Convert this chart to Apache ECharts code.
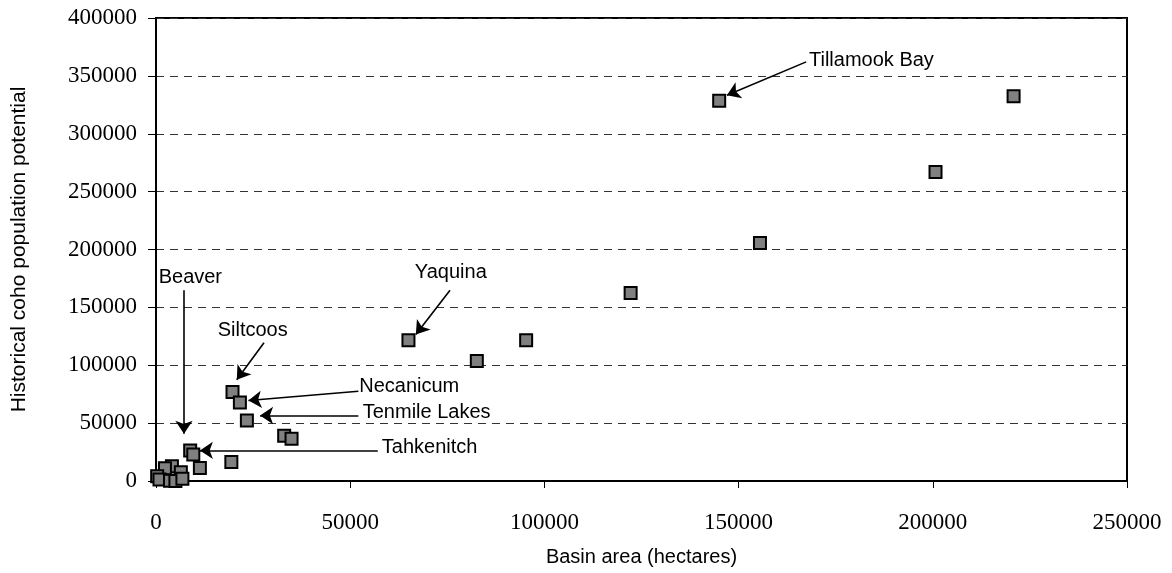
<!DOCTYPE html>
<html>
<head>
<meta charset="utf-8">
<script src="https://cdn.jsdelivr.net/npm/echarts@6/dist/echarts.min.js"></script>
<style>html,body{margin:0;padding:0;background:#fff}#c{width:1172px;height:573px}</style>
</head>
<body>
<div id="c"></div>
<script>
// Basin area (hectares) and historical coho population potential
const basinArea = [145000, 220800, 200700, 155500, 122200, 65000, 82600, 95300, 19700, 21600, 23400, 33000, 34900, 8800, 9600, 19400, 11300, 4100, 2300, 6400, 300, 900, 3600, 5000, 6800];
const cohoPotential = [328500, 332500, 267000, 205600, 162400, 121500, 103600, 121500, 76800, 67900, 52300, 39100, 36500, 26400, 22900, 16400, 11300, 12700, 11000, 7600, 4200, 1300, 200, 0, 1900];

// Annotation labels (text anchor in data units) and arrows (from -> to, data units)
const annoNames = ['Tillamook Bay', 'Yaquina', 'Siltcoos', 'Necanicum', 'Tenmile Lakes', 'Tahkenitch', 'Beaver'];
const annoTextX = [168000, 75900, 24900, 52200, 53100, 58000, 300];
const annoTextY = [363600, 180500, 130000, 82000, 59000, 28700, 176200];
const annoAlign = ['left', 'center', 'center', 'left', 'left', 'left', 'left'];
const arrowFromX = [167400, 75700, 27800, 52100, 52100, 57100, 7200];
const arrowFromY = [362100, 164700, 119500, 77600, 56600, 26400, 164700];
const arrowToX = [147000, 66900, 20800, 23800, 26800, 11300, 7200];
const arrowToY = [333300, 126600, 87500, 69600, 56600, 26400, 40800];

const xMin = 0, xMax = 250000, xInterval = 50000;
const yMin = 0, yMax = 400000, yInterval = 50000;

const points = basinArea.map((x, i) => [x, cohoPotential[i]]);
const arrows = arrowFromX.map((x, i) => [{coord: [x, arrowFromY[i]]}, {coord: [arrowToX[i], arrowToY[i]]}]);
const labels = annoNames.map((n, i) => ({
  value: [annoTextX[i], annoTextY[i]],
  label: {
    show: true,
    formatter: n,
    position: annoAlign[i] === 'left' ? 'right' : 'inside',
    distance: 0,
    backgroundColor: n === 'Beaver' ? '#fff' : 'transparent',
    padding: n === 'Beaver' ? [2, 1, 2, 1] : 0
  }
}));

const chart = echarts.init(document.getElementById('c'));
const sans = '"Liberation Sans", Arial, sans-serif';
const serif = '"Liberation Serif", "Times New Roman", serif';
const plain = v => String(v);
chart.setOption({
  animation: false,
  backgroundColor: '#fff',
  grid: {left: 156, right: 45, top: 18, bottom: 92, show: true, borderColor: '#000', borderWidth: 2, backgroundColor: 'transparent'},
  xAxis: {
    type: 'value', min: xMin, max: xMax, interval: xInterval,
    name: 'Basin area (hectares)', nameLocation: 'middle', nameGap: 66,
    nameTextStyle: {fontFamily: sans, fontSize: 20, color: '#000'},
    axisLine: {show: true, lineStyle: {color: '#000', width: 2}},
    axisTick: {show: true, length: 7, lineStyle: {color: '#000', width: 1}},
    axisLabel: {fontFamily: serif, fontSize: 23, color: '#000', margin: 30, formatter: plain},
    splitLine: {show: false}
  },
  yAxis: {
    type: 'value', min: yMin, max: yMax, interval: yInterval,
    name: 'Historical coho population potential', nameLocation: 'middle', nameGap: 126,
    nameTextStyle: {fontFamily: sans, fontSize: 21, color: '#000'},
    axisLine: {show: true, lineStyle: {color: '#000', width: 2}},
    axisTick: {show: true, length: 8, lineStyle: {color: '#000', width: 1}},
    axisLabel: {fontFamily: serif, fontSize: 23, color: '#000', margin: 19, formatter: plain},
    splitLine: {show: true, lineStyle: {color: '#333', width: 1, type: [8, 6]}}
  },
  series: [
    {
      type: 'scatter', data: points, symbol: 'rect', symbolSize: 12,
      itemStyle: {color: '#808080', borderColor: '#000', borderWidth: 2, opacity: 1},
      z: 3,
      markLine: {
        silent: true, animation: false,
        symbol: ['none', 'arrow'], symbolSize: 13,
        itemStyle: {color: '#000'},
        lineStyle: {color: '#000', width: 1.6, type: 'solid', opacity: 1},
        label: {show: false},
        emphasis: {disabled: true},
        data: arrows
      }
    },
    {
      type: 'scatter', data: labels, symbolSize: 1,
      itemStyle: {color: 'rgba(0,0,0,0)'},
      label: {fontFamily: sans, fontSize: 20, color: '#000', textBorderWidth: 0, opacity: 1},
      silent: true, z: 5
    }
  ]
});
</script>
</body>
</html>
